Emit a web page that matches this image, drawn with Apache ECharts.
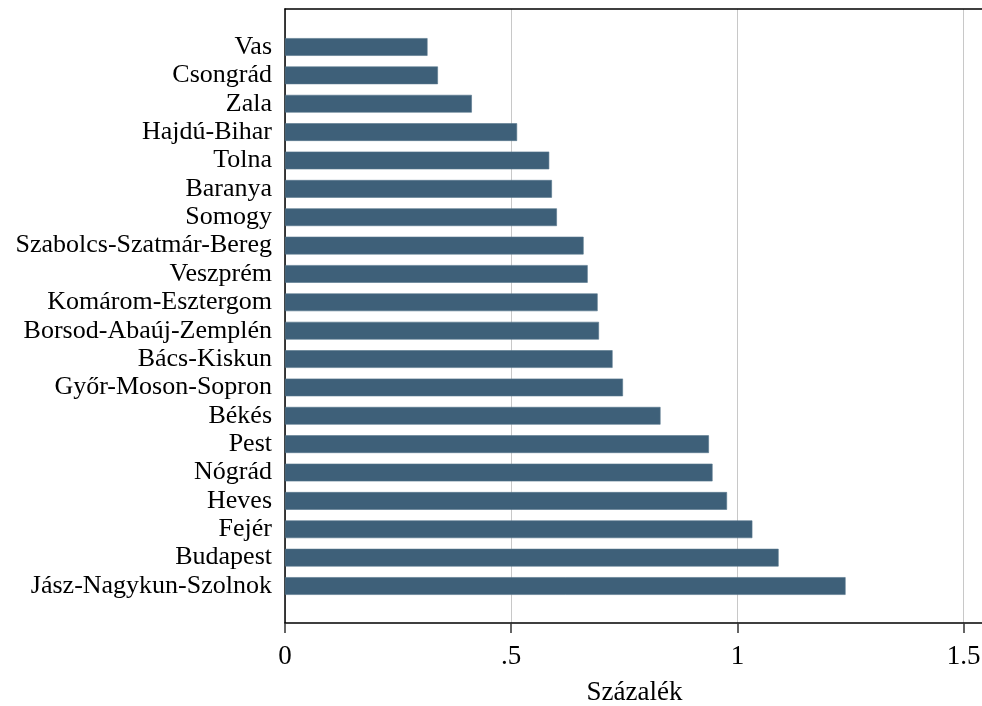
<!DOCTYPE html>
<html>
<head>
<meta charset="utf-8">
<script src="https://cdn.jsdelivr.net/npm/echarts@6/dist/echarts.min.js"></script>
<style>html,body{margin:0;padding:0;background:#fff}#chart{width:982px;height:706px}</style>
</head>
<body>
<div id="chart"></div>
<script>
const categories = ['Vas','Csongrád','Zala','Hajdú-Bihar','Tolna','Baranya','Somogy','Szabolcs-Szatmár-Bereg','Veszprém','Komárom-Esztergom','Borsod-Abaúj-Zemplén','Bács-Kiskun','Győr-Moson-Sopron','Békés','Pest','Nógrád','Heves','Fejér','Budapest','Jász-Nagykun-Szolnok'];
const values = [0.315,0.338,0.413,0.513,0.584,0.590,0.601,0.660,0.669,0.691,0.694,0.724,0.747,0.830,0.937,0.945,0.977,1.033,1.091,1.239];
const tickValues = [0, 0.5, 1, 1.5];
const tickLabels = ['0', '.5', '1', '1.5'];
const axisName = 'Százalék';

const FONT = '"Liberation Serif", "Times New Roman", serif';
const XMAX = 1.545;

const chart = echarts.init(document.getElementById('chart'), null, {renderer: 'canvas'});
chart.setOption({
  animation: false,
  backgroundColor: '#ffffff',
  grid: [
    {left: 285, right: -2, top: 9, bottom: 83, containLabel: false, outerBoundsMode: 'none'},
    {left: 285, right: -2, top: 32.8, bottom: 105.8, containLabel: false, outerBoundsMode: 'none'}
  ],
  xAxis: [
    {
      type: 'value', gridIndex: 0, min: 0, max: XMAX, interval: 0.5, position: 'bottom',
      axisLine: {show: true, lineStyle: {color: '#000', width: 1.5}},
      axisTick: {show: true, length: 10, customValues: tickValues, lineStyle: {color: '#333', width: 1.5}},
      axisLabel: {
        show: true, customValues: tickValues, margin: 20, fontSize: 27, fontFamily: FONT, color: '#000',
        formatter: function (v) { const i = tickValues.indexOf(v); return i >= 0 ? tickLabels[i] : ''; }
      },
      splitLine: {show: true, lineStyle: {color: '#c8c8c8', width: 1}},
      name: axisName, nameLocation: 'middle', nameGap: 56,
      nameTextStyle: {fontSize: 27, fontFamily: FONT, color: '#000'}
    },
    {
      type: 'value', gridIndex: 0, min: 0, max: XMAX, position: 'top',
      axisLine: {show: true, lineStyle: {color: '#000', width: 1.5}},
      axisTick: {show: false}, axisLabel: {show: false}, splitLine: {show: false}
    },
    {
      type: 'value', gridIndex: 1, min: 0, max: XMAX, show: false,
      splitLine: {show: false}
    }
  ],
  yAxis: [
    {
      type: 'value', gridIndex: 0, min: 0, max: 1,
      axisLine: {show: true, lineStyle: {color: '#000', width: 1.5}},
      axisTick: {show: false}, axisLabel: {show: false}, splitLine: {show: false}
    },
    {
      type: 'category', gridIndex: 1, data: categories, inverse: true,
      axisLine: {show: false}, axisTick: {show: false},
      axisLabel: {interval: 0, margin: 13, fontSize: 26, fontFamily: FONT, color: '#000'},
      splitLine: {show: false}
    }
  ],
  series: [{
    type: 'bar', xAxisIndex: 2, yAxisIndex: 1,
    data: values, barWidth: 17.7,
    itemStyle: {color: '#3e6079', borderColor: '#55758c', borderWidth: 0.6},
    silent: true
  }]
});
</script>
</body>
</html>
